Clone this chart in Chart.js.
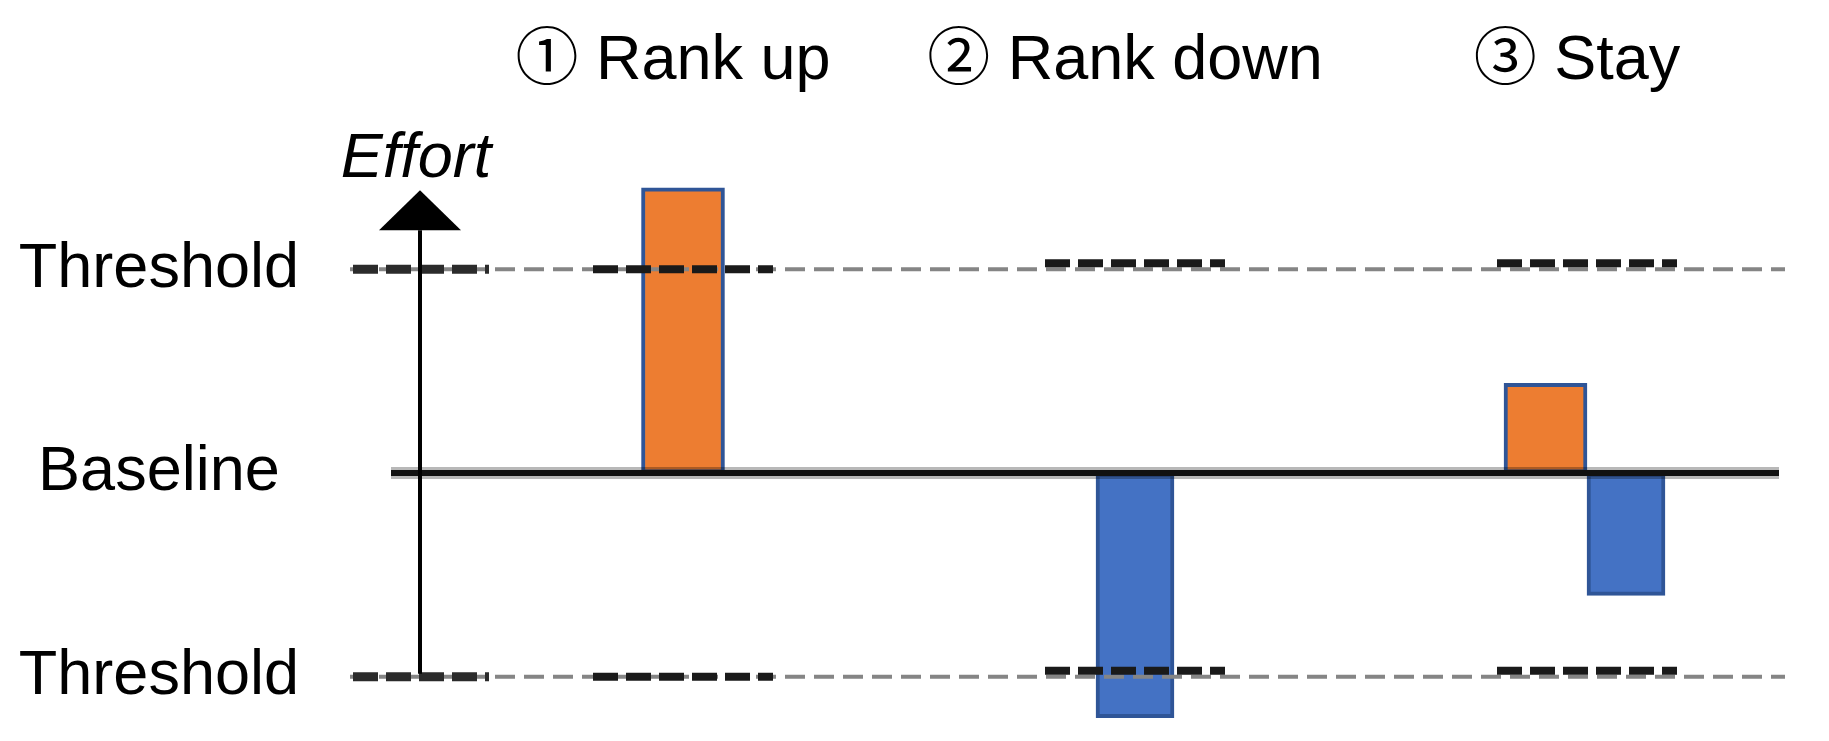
<!DOCTYPE html>
<html>
<head>
<meta charset="utf-8">
<script src="https://cdn.jsdelivr.net/npm/chart.js@4.4.0/dist/chart.umd.min.js"></script>
<style>
  html, body { margin: 0; padding: 0; background: #fff; }
  #wrap { width: 1829px; height: 741px; position: relative; }
</style>
</head>
<body>
<div id="wrap"><canvas id="effortChart"></canvas></div>
<script>
// chart data
const categories = ['① Rank up', '② Rank down', '③ Stay'];
const upValues = [1.40, null, 0.44];
const downValues = [null, -1.20, -0.60];
const levelValues = [-1, 0, 1];
const levelLabels = ['Threshold', 'Baseline', 'Threshold'];
const axisTitle = 'Effort';

const FONT = "'Liberation Sans', Arial, 'Noto Sans CJK JP', sans-serif";

function hLine(ctx, x1, x2, y) {
    ctx.beginPath();
    ctx.moveTo(x1, y);
    ctx.lineTo(x2, y);
    ctx.stroke();
}

// threshold lines, baseline and the effort arrow
const guides = {
    id: 'guides',
    afterDatasetsDraw(chart) {
        const ctx = chart.ctx;
        const area = chart.chartArea;
        const xs = chart.scales.x;
        const ys = chart.scales.y;
        const axisX = area.left - 37;
        const yTop = ys.getPixelForValue(1);
        const yBottom = ys.getPixelForValue(-1);
        const yBase = ys.getPixelForValue(0);

        ctx.save();

        // thin gray dashed threshold lines
        ctx.strokeStyle = '#858585';
        ctx.lineWidth = 4;
        ctx.setLineDash([20, 9]);
        [yTop, yBottom].forEach(function (y) {
            hLine(ctx, axisX - 70, area.right - 28, y);
        });

        // thick black threshold markers
        ctx.setLineDash([25, 8]);
        [yTop, yBottom].forEach(function (y) {
            ctx.strokeStyle = '#2b2b2b';
            ctx.lineWidth = 9;
            hLine(ctx, axisX - 67, axisX + 69, y);
            ctx.strokeStyle = '#1a1a1a';
            ctx.lineWidth = 8;
            categories.forEach(function (c, i) {
                const cx = xs.getPixelForValue(i);
                const shift = i === 0 ? 0 : -6;
                hLine(ctx, cx - 90, cx + 90, y + shift);
            });
        });

        // baseline
        ctx.setLineDash([]);
        ctx.strokeStyle = 'rgba(0,0,0,0.28)';
        ctx.lineWidth = 12;
        hLine(ctx, axisX - 29, area.right - 34, yBase);
        ctx.strokeStyle = '#111';
        ctx.lineWidth = 6;
        hLine(ctx, axisX - 29, area.right - 34, yBase);

        // vertical axis with arrow
        const arrowBase = yTop - 39;
        const arrowTip = yTop - 79;
        ctx.strokeStyle = '#000';
        ctx.lineWidth = 4;
        ctx.beginPath();
        ctx.moveTo(axisX, yBottom - 3);
        ctx.lineTo(axisX, arrowBase);
        ctx.stroke();
        ctx.fillStyle = '#000';
        ctx.beginPath();
        ctx.moveTo(axisX, arrowTip);
        ctx.lineTo(axisX + 41, arrowBase);
        ctx.lineTo(axisX - 41, arrowBase);
        ctx.closePath();
        ctx.fill();

        ctx.font = 'italic 63px ' + FONT;
        ctx.textAlign = 'center';
        ctx.textBaseline = 'alphabetic';
        ctx.fillText(axisTitle, axisX - 4, arrowTip - 13);

        ctx.restore();
    }
};

new Chart(document.getElementById('effortChart'), {
    type: 'bar',
    data: {
        labels: categories,
        datasets: [{
            label: 'Up',
            data: upValues,
            backgroundColor: '#ED7D31',
            borderColor: '#2F5597',
            borderWidth: 4,
            borderSkipped: false,
            barThickness: 83,
            skipNull: true
        }, {
            label: 'Down',
            data: downValues,
            backgroundColor: '#4472C4',
            borderColor: '#2F5597',
            borderWidth: 4,
            borderSkipped: false,
            barThickness: 78,
            skipNull: true
        }]
    },
    options: {
        responsive: true,
        maintainAspectRatio: false,
        animation: false,
        layout: { padding: { top: 0, right: 16, bottom: 3, left: 0 } },
        plugins: {
            legend: { display: false },
            tooltip: { enabled: false }
        },
        scales: {
            x: {
                position: 'top',
                offset: true,
                grid: { display: false, drawTicks: false },
                border: { display: false },
                ticks: {
                    font: { family: FONT, size: 63 },
                    color: '#000',
                    padding: 48,
                    maxRotation: 0,
                    autoSkip: false,
                    labelOffset: -10
                },
                afterFit: function (scale) {
                    scale.height = 147;
                    scale.paddingLeft = 0;
                    scale.paddingRight = 0;
                }
            },
            y: {
                min: -1.3,
                max: 1.6,
                grid: { display: false, drawTicks: false },
                border: { display: false },
                afterBuildTicks: function (scale) {
                    scale.ticks = levelValues.map(function (v) { return { value: v }; });
                },
                ticks: {
                    font: { family: FONT, size: 63 },
                    color: '#000',
                    padding: 158,
                    crossAlign: 'center',
                    callback: function (value) {
                        const idx = levelValues.indexOf(value);
                        return idx >= 0 ? levelLabels[idx] : '';
                    }
                },
                afterFit: function (scale) {
                    scale.width = 457;
                    scale.paddingTop = 0;
                    scale.paddingBottom = 0;
                }
            }
        }
    },
    plugins: [guides]
});
</script>
</body>
</html>
